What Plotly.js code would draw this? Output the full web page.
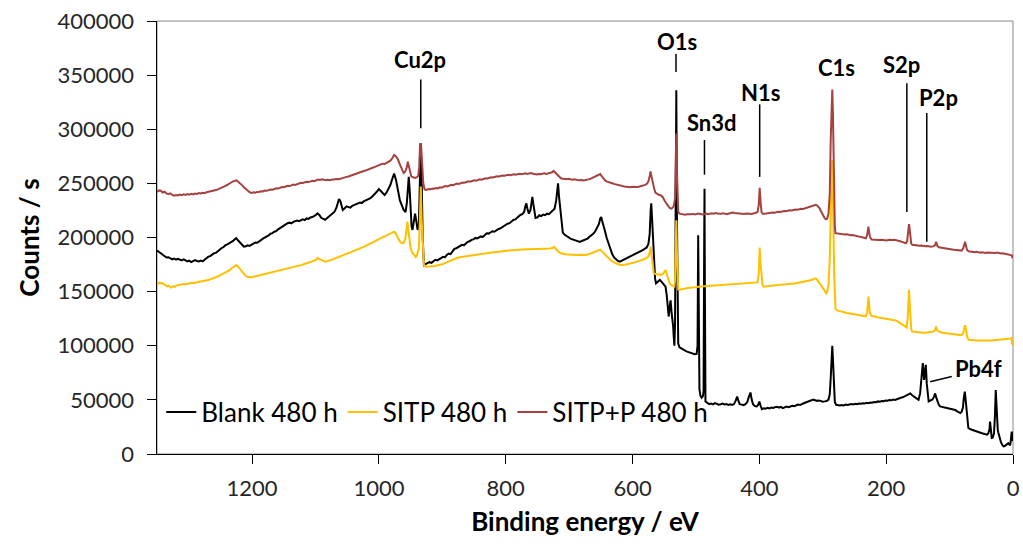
<!DOCTYPE html>
<html>
<head>
<meta charset="utf-8">
<script src="https://cdn.plot.ly/plotly-3.0.1.min.js"></script>
<style>
  html, body { margin: 0; padding: 0; background: #ffffff; }
  #chart { width: 1023px; height: 544px; }
</style>
</head>
<body>
<div id="chart"></div>
<script>
// XPS survey spectra after 480 h exposure.
// Each spectrum is a list of [binding energy (eV), counts per second] pairs.

const blankSpectrum = [
[1350,188000],[1347,187000],[1344,185500],[1341,184000],[1338,182500],[1335,181500],[1332,181800],[1329,180500],[1326,179800],[1323,180600],[1320,179600],[1317,180300],[1314,179200],[1311,178800],[1308,179700],[1305,178400],[1302,177900],[1299,178600],[1296,177300],[1293,178200],[1290,179100],[1287,178300],[1284,177800],[1281,178600],[1278,177900],[1275,179400],[1272,180800],[1269,182300],[1266,182800],[1263,184200],[1260,185500],[1257,185800],[1254,187500],[1251,188600],[1248,190300],[1245,191200],[1242,192900],[1239,193600],[1236,194500],[1233,195900],[1230,196800],[1227,198600],[1225,199500],[1222,197200],[1219,195000],[1216,193200],[1213,191500],[1210,191900],[1207,192800],[1204,192300],[1201,193600],[1198,194300],[1195,195400],[1192,195100],[1189,196800],[1186,197600],[1183,198900],[1180,199800],[1177,201400],[1174,201900],[1171,203500],[1168,204000],[1165,205300],[1162,205900],[1159,207500],[1156,208600],[1153,209800],[1150,210900],[1147,212500],[1144,213200],[1141,213700],[1138,213100],[1135,214400],[1132,214900],[1129,215600],[1126,215100],[1123,216200],[1120,216800],[1117,216100],[1114,217600],[1111,217200],[1108,218500],[1105,218900],[1102,219800],[1099,221000],[1097,222300],[1094,220800],[1091,218200],[1088,216900],[1085,216300],[1082,217800],[1079,219500],[1076,220900],[1073,222100],[1070,223800],[1067,227500],[1065,231000],[1063,235500],[1061,234000],[1059,230500],[1057,225500],[1054,227000],[1051,228800],[1048,228100],[1045,227600],[1042,229300],[1039,229800],[1036,230900],[1033,231500],[1030,232200],[1027,231800],[1024,233300],[1021,233900],[1018,234600],[1015,235800],[1012,237000],[1009,238400],[1006,240600],[1003,242500],[1000,244800],[997,243000],[994,240500],[991,239200],[988,241500],[985,244800],[982,248500],[979,254000],[976,259000],[973,253000],[970,243000],[967,234500],[964,230000],[961,225500],[958,223500],[956,232000],[954,247000],[953,256000],[951.5,244000],[950,222000],[948.5,210000],[947,207000],[945,214000],[943,222000],[941,215000],[939,207000],[937,212000],[935.5,240000],[934,287000],[932.5,250000],[931,200000],[929,174600],[926,175800],[923,176500],[920,177200],[917,176600],[914,178000],[911,179400],[908,178800],[905,180300],[902,181000],[899,182100],[896,181600],[893,183800],[890,185200],[887,184600],[884,186900],[881,189500],[878,190100],[875,191000],[872,191800],[869,193200],[866,192800],[863,194600],[860,196000],[857,196500],[854,197800],[851,198200],[848,199600],[845,199100],[842,200400],[839,201000],[836,200500],[833,202200],[830,203900],[827,203600],[824,204500],[821,205800],[818,205300],[815,206900],[812,207800],[809,208300],[806,209600],[803,210200],[800,211500],[797,212700],[794,213200],[791,214800],[788,216200],[785,216700],[782,218300],[779,219000],[777,220800],[774,221500],[771,223500],[769,229000],[767.5,231500],[766,227000],[763.5,222000],[761,225500],[759,233000],[758,237600],[756.5,231000],[755,225000],[753,218000],[750,218500],[747,220500],[744,219800],[741,221200],[738,220600],[735,222000],[732,221500],[729,223000],[726,224200],[723,226500],[720.5,234000],[718.5,247000],[717.5,250000],[716,238000],[714,225000],[712,212000],[710,204500],[707,202500],[704,201000],[701,200200],[698,199000],[695,198400],[692,197600],[689,197000],[686,196300],[683,196000],[680,196800],[677,197400],[674,198500],[671,199000],[668,200600],[665,201800],[662,203500],[659,205500],[656,208500],[653,212500],[651,217500],[649.5,219000],[648,215500],[646,212000],[643.5,206000],[641,200000],[638,194500],[635,189000],[632,184500],[629,181500],[626,179500],[623,178400],[620,177700],[617,178600],[614,179300],[611,179900],[608,181000],[605,181600],[602,182400],[599,183500],[596,184300],[593,185400],[590,186300],[587,187200],[584,188400],[581,189500],[578,190600],[575,194000],[573,203000],[571.5,225000],[570.5,231500],[569,215000],[567.5,197000],[566,180000],[564.5,162000],[563,157700],[560,159200],[557,160800],[554,159000],[551,156800],[548,154600],[546,146000],[544,133000],[543,127000],[541,138000],[540,142000],[538.5,131000],[537,124000],[536,118000],[535,108000],[534,100000],[533,120000],[532,200000],[531,336000],[530,220000],[529,120000],[528,102000],[526,98500],[523,97300],[520,96200],[517,95400],[514,94600],[511,93900],[508,93300],[505,92600],[502,92100],[499,92400],[497.5,100000],[496.5,202000],[495.5,120000],[494.5,60000],[493,54000],[491,52000],[489,53500],[488,58000],[487,200000],[486.5,245000],[486,160000],[485,48500],[482,47200],[479,46100],[476,46600],[473,45800],[470,47000],[467,46300],[464,45600],[461,45900],[458,46500],[455,45700],[452,46200],[449,45400],[446,46000],[443,45300],[440,46100],[437.5,49000],[435,53000],[433,49000],[431,46000],[428,45600],[425,45200],[422,46100],[419,48000],[416.5,53000],[414,56800],[412,50000],[410,46000],[407,44200],[404,44000],[402,45500],[400,48500],[398,44500],[396,41500],[393,42200],[390,41800],[387,42600],[384,42100],[381,43000],[378,42500],[375,43300],[372,43700],[369,42900],[366,43500],[363,42400],[360,43200],[357,43800],[354,43300],[351,44000],[348,44600],[345,44200],[342,45100],[339,45600],[336,45200],[333,46300],[330,46900],[327,47600],[324,48200],[321,48900],[318,49600],[315,50200],[312,49700],[309,49100],[306,49500],[303,48700],[300,48300],[297,48600],[294,49000],[291,50300],[289,55000],[287.5,70000],[286,92000],[285,100000],[284,88000],[282.5,62000],[281,48000],[279,45500],[276,45100],[273,44800],[270,45200],[267,44900],[264,45600],[261,45300],[258,45800],[255,46200],[252,45700],[249,46300],[246,46000],[243,46700],[240,46400],[237,46900],[234,46600],[231,47300],[228,47000],[225,47600],[222,47400],[219,48100],[216,47800],[213,48600],[210,48300],[207,49000],[204,48700],[201,49400],[198,49200],[195,49800],[192,49600],[189,50300],[186,50000],[183,50800],[180,51200],[177,51900],[174,52400],[171,53300],[168,54500],[165,55600],[162,56000],[159,54300],[156,53000],[152,51500],[149,50000],[146.5,56000],[144,70000],[142.2,84000],[140.2,68500],[138.5,75000],[137.5,82400],[136,65000],[134.5,52000],[133,48500],[130,49500],[127,50400],[124.5,53000],[122.8,56000],[121,52000],[119,48000],[117,45500],[115,44000],[112,43600],[109,43200],[106,43000],[103,42700],[100,42400],[97,42000],[94,41300],[91,40600],[88,39400],[85,38200],[83,37800],[81,39000],[79,43000],[77.5,52000],[76,57700],[75,52000],[73.5,40000],[72,30000],[70.4,24000],[67,22800],[64,22100],[61,21500],[58,21000],[55,20300],[52,19800],[49,19200],[46,18700],[43,18100],[41,17800],[39,19000],[37,23000],[36.2,30000],[35,20000],[33.5,14800],[32,15000],[30,19000],[28.5,35000],[27.2,59000],[26,45000],[25,30000],[24,22000],[23,19400],[21,14000],[19,11000],[17,8500],[15,7000],[13,7400],[11,8500],[9,9200],[7.4,10000],[6,9000],[5,8000],[4,9500],[3,14000],[2,20600],[1,16000],[0,12000]
];

const sitpSpectrum = [
[1350,156500],[1348,157800],[1346,158400],[1344,157600],[1342,157900],[1340,157200],[1338,156300],[1336,155400],[1334,154800],[1332,155500],[1330,154600],[1328,153800],[1326,154300],[1324,155000],[1322,154400],[1320,155600],[1317,155900],[1314,156600],[1311,156300],[1308,157000],[1305,156800],[1302,157400],[1299,157300],[1296,157900],[1293,158200],[1290,158000],[1287,158700],[1284,159000],[1281,158900],[1278,159500],[1275,159800],[1272,160300],[1269,160700],[1266,161300],[1263,161900],[1260,162400],[1257,163300],[1254,164000],[1251,165000],[1248,165900],[1245,166700],[1242,167600],[1239,168400],[1236,169600],[1233,171200],[1230,172800],[1227,174000],[1225,174600],[1222,173000],[1219,170800],[1216,168300],[1213,166000],[1210,164400],[1207,163400],[1204,163000],[1201,163300],[1198,163700],[1195,164000],[1192,164500],[1189,164900],[1186,165300],[1183,165900],[1180,166300],[1177,166900],[1174,167200],[1171,167800],[1168,168100],[1165,168600],[1162,169000],[1159,169400],[1156,169900],[1153,170200],[1150,170700],[1147,171100],[1144,171600],[1141,171900],[1138,172400],[1135,172700],[1132,173200],[1129,173600],[1126,174000],[1123,174500],[1120,175000],[1117,175400],[1114,176000],[1111,176500],[1108,177300],[1105,177900],[1102,178600],[1099,179500],[1097,181000],[1095,180400],[1092,179300],[1089,178600],[1086,178000],[1083,177800],[1080,178200],[1077,178900],[1074,179600],[1071,180200],[1068,180900],[1065,181300],[1062,182000],[1059,182700],[1056,183200],[1053,184000],[1050,184600],[1047,185300],[1044,186000],[1041,186800],[1038,187500],[1035,188300],[1032,189000],[1029,189800],[1026,190700],[1023,191500],[1020,192400],[1017,193300],[1014,194300],[1011,195400],[1008,196500],[1005,197600],[1002,198400],[999,199200],[996,199900],[993,200600],[990,201200],[987,202000],[984,202800],[981,203700],[978,204900],[976,205400],[974,204200],[972,202000],[970,199700],[967,196500],[964,194800],[961,195000],[958.5,198500],[956.5,206000],[955,214600],[953.5,206000],[952,197000],[950,190000],[948,186500],[946,184800],[944,183200],[942,182000],[940,183600],[938.5,186000],[937,190000],[935.5,215000],[934,247000],[932.5,215000],[931,190000],[929,174600],[927,173400],[924,172900],[921,173300],[918,173200],[915,173700],[912,173600],[909,174100],[906,174300],[903,174700],[900,175300],[897,176100],[894,176900],[891,177700],[888,178600],[885,179400],[882,180300],[879,180900],[876,181300],[873,181700],[870,182000],[867,182300],[864,182600],[861,182900],[858,183200],[855,183500],[852,183800],[849,184100],[846,184400],[843,184600],[840,184800],[837,185100],[834,185300],[831,185500],[828,185700],[825,186000],[822,186200],[819,186400],[816,186700],[813,186900],[810,187100],[807,187300],[804,187500],[801,187700],[798,187800],[795,188000],[792,188200],[789,188300],[786,188500],[783,188600],[780,188800],[777,188900],[774,189000],[771,189100],[768,189200],[765,189200],[762,189300],[759,189300],[756,189400],[753,189400],[750,189400],[747,189500],[744,189400],[741,189500],[738,189600],[735,189500],[732,189700],[729,189800],[726,190200],[724,191500],[722,190200],[719,188300],[716,186500],[713,185500],[710,185000],[707,184600],[704,184400],[701,184300],[698,184100],[695,184200],[692,184000],[689,183900],[686,184100],[683,183900],[680,183700],[677,183800],[674,183900],[671,184200],[668,184700],[665,185200],[662,186000],[659,186800],[656,187700],[653,188300],[651,188800],[649,187600],[646,185700],[643,183600],[640,182000],[637,180300],[634,178800],[631,177600],[628,176600],[625,175800],[622,175100],[619,174600],[616,174500],[613,174800],[610,175100],[607,175400],[604,175800],[601,176300],[598,176800],[595,177300],[592,177800],[589,178400],[586,179000],[583,179700],[580,180400],[577,181300],[575,182500],[573,186000],[571.7,191500],[570,184500],[568,175000],[566.5,167000],[564,166200],[561,165800],[558,165600],[555,165500],[552,166400],[550,168000],[548,170000],[546,166000],[544,161000],[542,158500],[540,156300],[537,155400],[534,154700],[533,160000],[532,190000],[531,216000],[530,185000],[529,158000],[528,152000],[526,151700],[523,152200],[520,152500],[517,152900],[514,153100],[511,153500],[508,153600],[505,154000],[502,154100],[499,154400],[496,154600],[493,154800],[490,154900],[487,155100],[484,155200],[481,155400],[478,155500],[475,155600],[472,155700],[469,155800],[466,155900],[463,156000],[460,156100],[457,156300],[454,156400],[451,156500],[448,156700],[445,156800],[442,156900],[439,157100],[436,157200],[433,157300],[430,157400],[427,157500],[424,157600],[421,157700],[418,157800],[415,157900],[412,158000],[409,158000],[406,158200],[403,158500],[401,166000],[399.5,190600],[398,175000],[396.5,160000],[395,156000],[393,154600],[390,154900],[387,155100],[384,155300],[381,155500],[378,155600],[375,155800],[372,156000],[369,156100],[366,156300],[363,156400],[360,156600],[357,156800],[354,157000],[351,157200],[348,157400],[345,157600],[342,157800],[339,158100],[336,158300],[333,158600],[330,158900],[327,159200],[324,159600],[321,160100],[318,160700],[315,161400],[312,162300],[310,161800],[308,160500],[306,158800],[304,157000],[302,155300],[300,153500],[298,151600],[296,149500],[294.5,148500],[293,150000],[291,156000],[289,180000],[287.5,230000],[286,262000],[285,271500],[284,250000],[283,205000],[282,165000],[281,142000],[280,134000],[277,132600],[274,132000],[271,131400],[268,131000],[265,130600],[262,130300],[259,130100],[256,129800],[253,129500],[250,129300],[247,129000],[244,128600],[241,128300],[238,127900],[235,127500],[232,127200],[230,131000],[229,139000],[228,145400],[227,139000],[226,131000],[224,127800],[221,127200],[218,126800],[215,126500],[212,126200],[209,125900],[206,125600],[203,125300],[200,125000],[197,124800],[194,124500],[191,124300],[188,124000],[185,123400],[182,122500],[179,121500],[176,120400],[173,119300],[170,117900],[168,117000],[166,125000],[165,140000],[164,151600],[163,140000],[162,122000],[160.5,115000],[159,113200],[156,112900],[153,112700],[150,112500],[147,112300],[144,112200],[141,112000],[138,112100],[135,112300],[132,112600],[129,112800],[126,113100],[123,114200],[121.3,117700],[119.5,114000],[117,113000],[114,112500],[111,112100],[108,111800],[105,111500],[102,111200],[99,111000],[96,110800],[93,110600],[90,110400],[87,110200],[84,110000],[81,109900],[78.5,111500],[77,115500],[75.6,119000],[74,115000],[72.5,108500],[70,105600],[67,105300],[64,105100],[61,105000],[58,104900],[55,104900],[52,104800],[49,104800],[46,104700],[43,104700],[40,104800],[37,104800],[34,104900],[31,105000],[28,105100],[25,105200],[22,105400],[19,105500],[16,105700],[13,105900],[10,106100],[7,106400],[4,106800],[2.5,107200],[1.5,102000],[0.5,101000],[0,103500]
];

const sitpPSpectrum = [
[1350,242000],[1347,243500],[1344,243200],[1341,241600],[1338,242300],[1335,240700],[1332,240100],[1329,240800],[1326,239400],[1323,238600],[1320,239300],[1317,238800],[1314,239700],[1311,239100],[1308,239900],[1305,239300],[1302,240100],[1299,239500],[1296,240300],[1293,239800],[1290,240600],[1287,240200],[1284,241000],[1281,240600],[1278,241300],[1275,241000],[1272,241800],[1269,242200],[1266,242000],[1263,242900],[1260,243400],[1257,243800],[1254,244500],[1251,245100],[1248,246200],[1245,246800],[1242,247600],[1239,248700],[1236,249500],[1233,250800],[1230,251900],[1227,252600],[1225,252800],[1222,251500],[1219,250200],[1216,248400],[1213,246500],[1210,244800],[1207,243100],[1204,241900],[1201,241200],[1198,241700],[1195,241400],[1192,242100],[1189,242000],[1186,242800],[1183,242500],[1180,243300],[1177,243100],[1174,243900],[1171,244300],[1168,244100],[1165,245000],[1162,245400],[1159,245200],[1156,246100],[1153,246600],[1150,246400],[1147,247200],[1144,247800],[1141,247500],[1138,248400],[1135,248900],[1132,248600],[1129,249400],[1126,249900],[1123,250600],[1120,250300],[1117,251100],[1114,251500],[1111,251200],[1108,252000],[1105,252400],[1102,252100],[1099,252900],[1096,253600],[1093,253200],[1090,253700],[1087,253300],[1084,253000],[1081,253400],[1078,252900],[1075,253300],[1072,253700],[1069,253400],[1066,254100],[1063,253800],[1060,254500],[1057,254900],[1054,255600],[1051,256000],[1048,256400],[1045,257100],[1042,257500],[1039,258300],[1036,258900],[1033,259400],[1030,260100],[1027,260600],[1024,261400],[1021,261800],[1018,262700],[1015,263200],[1012,264000],[1009,264600],[1006,265500],[1003,266100],[1000,266800],[997,267600],[994,268200],[991,268000],[988,269000],[985,269900],[982,271000],[979,273200],[976,276200],[973,274800],[970,272000],[967,267500],[964,262500],[961,259500],[958.5,261000],[956,265000],[954.5,270000],[953,266000],[951,259000],[949,256500],[946,255600],[943,255000],[940,255800],[938,257000],[936.5,265000],[935,287000],[933.5,285000],[932,268000],[930,250000],[928,244500],[925,244000],[922,244800],[919,244400],[916,245300],[913,245000],[910,245700],[907,245400],[904,246300],[901,246000],[898,246900],[895,247500],[892,247200],[889,248000],[886,248600],[883,248300],[880,249200],[877,249800],[874,249500],[871,250300],[868,250800],[865,250600],[862,251400],[859,251900],[856,251600],[853,252400],[850,252800],[847,252500],[844,253400],[841,253700],[838,253400],[835,254200],[832,254700],[829,254500],[826,255300],[823,255700],[820,255400],[817,256200],[814,256600],[811,256300],[808,257100],[805,257300],[802,257000],[799,257600],[796,257900],[793,257500],[790,258200],[787,258500],[784,258100],[781,258600],[778,258900],[775,258400],[772,258800],[769,259300],[766,258700],[763,259100],[760,259500],[757,258900],[754,258500],[751,258300],[748,258700],[745,258400],[742,258900],[739,259300],[736,258800],[733,259400],[730,259800],[727,260200],[724.5,261500],[722,260000],[719,257800],[716,255600],[713,254700],[710,254300],[707,254000],[704,253800],[701,254200],[698,253700],[695,253400],[692,253800],[689,253200],[686,253000],[683,252800],[680,253100],[677,252600],[674,252900],[671,253200],[668,253900],[665,254600],[662,255600],[659,256600],[656,257500],[653,258200],[651,258600],[649,257000],[646,254300],[643,252500],[640,251600],[637,250800],[634,250200],[631,249900],[628,249300],[625,248700],[622,248300],[619,247900],[616,247500],[613,247200],[610,246900],[607,246700],[604,246500],[601,246800],[598,246600],[595,246900],[592,246700],[589,247100],[586,247400],[583,247900],[580,248600],[577,249800],[575,252000],[573,256500],[571.7,261000],[570,256000],[568,249500],[566,245500],[564,241500],[561,240000],[558,239200],[555,238800],[552,237000],[549,233500],[546,230500],[543,228500],[541,227000],[539,226600],[537.5,227200],[535,229000],[533,236000],[532,260000],[531,296000],[530,262000],[529,235000],[528,224000],[526,222000],[523,221600],[520,221300],[517,221000],[514,221400],[511,221100],[508,221500],[505,221800],[502,221300],[499,221700],[496,222200],[493,221800],[490,221300],[487,221700],[484,222100],[481,221600],[478,222000],[475,222400],[472,222000],[469,222500],[466,222100],[463,221700],[460,221900],[457,222300],[454,222000],[451,221600],[448,222100],[445,222500],[442,223000],[439,222600],[436,222300],[433,222700],[430,222400],[427,222000],[424,221700],[421,222100],[418,222400],[415,222000],[412,221800],[409,222200],[406,222500],[403,223300],[401,230000],[399.5,246000],[398,232000],[396.5,223000],[394,221700],[391,222000],[388,222500],[385,222300],[382,222800],[379,223200],[376,222900],[373,223500],[370,223800],[367,223600],[364,224200],[361,224500],[358,224300],[355,224900],[352,225200],[349,225000],[346,225600],[343,225900],[340,225700],[337,226300],[334,226600],[331,226400],[328,227000],[325,227300],[322,227600],[319,228200],[316,229000],[313,229800],[311,230200],[309,229700],[307,228600],[305,227000],[303,224500],[301,222000],[299,219500],[297,217800],[295,216800],[293,217500],[291,222000],[289,240000],[287.5,290000],[286,330000],[285,336700],[284,315000],[283,270000],[282,225000],[281,210000],[280,204000],[277,203700],[274,203300],[271,203600],[268,203100],[265,202800],[262,203000],[259,202400],[256,202100],[253,202300],[250,201700],[247,201400],[244,201000],[241,200600],[238,200300],[235,199500],[232,199300],[230,202500],[229,206500],[228,210000],[227,205000],[225.5,200500],[223,198200],[220,197900],[217,198300],[214,198000],[211,197600],[208,197900],[205,197500],[202,197700],[199,197300],[196,197800],[193,197400],[190,197600],[187,197900],[184,197200],[181,196800],[178,196500],[175,196000],[172,195200],[169,194700],[167,196500],[165,206000],[164,212400],[163,208000],[162,199000],[160.5,194500],[159,193200],[156,192900],[153,193100],[150,192600],[147,192300],[144,192500],[141,192100],[138,191900],[135,192200],[132,191800],[129,191500],[126,191800],[123,192800],[121.3,196000],[119.5,192500],[117,191000],[114,190800],[111,190300],[108,190500],[105,189900],[102,189500],[99,189200],[96,189000],[93,188700],[90,188500],[87,188200],[84,188000],[81,187900],[78.5,190000],[77,193500],[75.6,196000],[74,192000],[72.5,188500],[70,187200],[67,186900],[64,186700],[61,186400],[58,186800],[55,186300],[52,186000],[49,186400],[46,186100],[43,185800],[40,186200],[37,186000],[34,185600],[31,186000],[28,185700],[25,186100],[22,185600],[19,185200],[16,185500],[13,185000],[10,184700],[7,184300],[4,184000],[2,183500],[1,181000],[0,182500]
];

const seriesNames = ['Blank 480 h', 'SITP 480 h', 'SITP+P 480 h'];
const seriesColors = ['#000000', '#ffc000', '#a5423f'];
const spectra = [blankSpectrum, sitpSpectrum, sitpPSpectrum];

const traces = spectra.map((spec, i) => ({
  type: 'scatter', mode: 'lines',
  x: spec.map(p => p[0]), y: spec.map(p => p[1]),
  name: seriesNames[i],
  line: { color: seriesColors[i], width: 2 }
}));

const FONT = 'Lato, "Open Sans", sans-serif';
const labelFont = { family: FONT, size: 22, color: '#000000' };

// peak labels (eV, counts) and their leader lines
const peakNotes = [
  { text: '<b>Cu2p</b>', x: 936, y: 364000 },
  { text: '<b>O1s</b>',  x: 530.7, y: 381000 },
  { text: '<b>Sn3d</b>', x: 474, y: 306000 },
  { text: '<b>N1s</b>',  x: 398.4, y: 334000 },
  { text: '<b>C1s</b>',  x: 277.6, y: 357000 },
  { text: '<b>S2p</b>',  x: 175.3, y: 360000 },
  { text: '<b>P2p</b>',  x: 118, y: 329000 },
  { text: '<b>Pb4f</b>', x: 55, y: 79000 }
];
const leaders = [
  [934, 301000, 934, 346000],
  [531.5, 353000, 531.5, 369500],
  [486.6, 258000, 486.6, 290000],
  [399.5, 256000, 399.5, 323000],
  [167.4, 223500, 167.4, 342500],
  [136, 196000, 136, 315000],
  [130.7, 66700, 96.5, 71600]
];

const shapes = [
  { type: 'rect', xref: 'paper', yref: 'paper', x0: 0, x1: 1, y0: 0, y1: 1,
    line: { color: '#868686', width: 1 }, layer: 'below' }
].concat(leaders.map(l => ({
  type: 'line', xref: 'x', yref: 'y', x0: l[0], y0: l[1], x1: l[2], y1: l[3],
  line: { color: '#000000', width: 1.5 }
})));

const annotations = peakNotes.map(p => ({
  x: p.x, y: p.y, xref: 'x', yref: 'y', text: p.text, showarrow: false,
  font: labelFont, xanchor: 'center', yanchor: 'middle'
}));

const tickFont = { family: FONT, size: 22, color: '#262626' };
const titleFont = { family: FONT, size: 26, color: '#000000' };

const layout = {
  width: 1023, height: 544,
  margin: { l: 157, r: 10, t: 21, b: 90, pad: 0 },
  paper_bgcolor: '#ffffff', plot_bgcolor: '#ffffff',
  showlegend: true,
  legend: {
    orientation: 'h', x: 0.005, y: 0.097, xanchor: 'left', yanchor: 'middle',
    bgcolor: 'rgba(0,0,0,0)', font: { family: FONT, size: 26, color: '#000000' },
    itemwidth: 30, tracegroupgap: 0
  },
  xaxis: {
    range: [1350, 0], autorange: false,
    tickmode: 'linear', tick0: 0, dtick: 200, tickformat: 'd',
    ticks: 'outside', ticklen: 9, tickwidth: 1, tickcolor: '#000000',
    showline: true, linecolor: '#000000', linewidth: 1,
    showgrid: false, zeroline: false,
    tickfont: tickFont, ticklabelstandoff: 6,
    title: { text: '<b>Binding energy / eV</b>', font: titleFont, standoff: 12 }
  },
  yaxis: {
    range: [0, 400000], autorange: false,
    tickmode: 'linear', tick0: 0, dtick: 50000, tickformat: 'd',
    ticks: 'outside', ticklen: 9, tickwidth: 1, tickcolor: '#000000',
    showline: true, linecolor: '#000000', linewidth: 1.5,
    showgrid: false, zeroline: false,
    tickfont: tickFont, ticklabelstandoff: 8,
    title: { text: '<b>Counts / s</b>', font: titleFont, standoff: 10 }
  },
  shapes: shapes,
  annotations: annotations
};

Plotly.newPlot('chart', traces, layout, { staticPlot: true, displayModeBar: false });
</script>
</body>
</html>
